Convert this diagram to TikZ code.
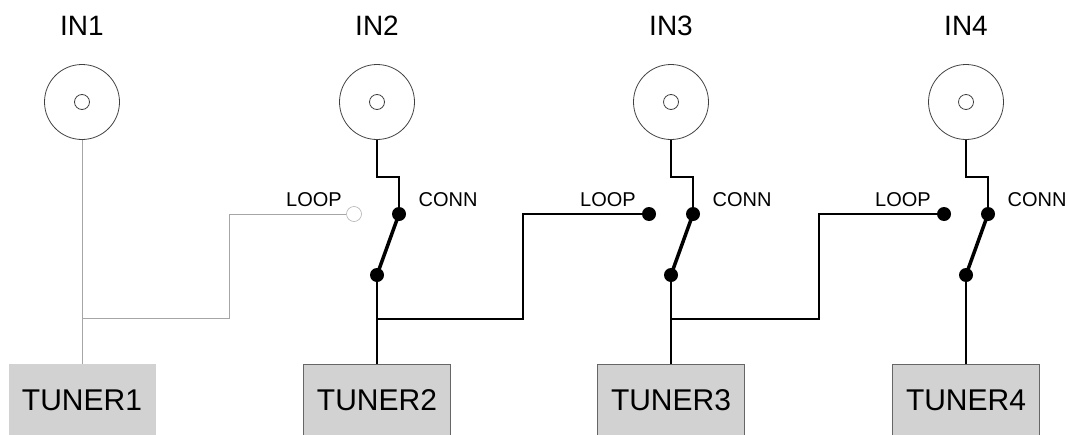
\documentclass[tikz,border=0pt]{standalone}
\usepackage{fontspec}
\setmainfont{Liberation Sans}
\begin{document}
\begin{tikzpicture}[x=1pt,y=-1pt,
  jack/.style={draw=black!75,circle,minimum size=75pt,inner sep=0pt,line width=0.8pt},
  hole/.style={draw=black!75,circle,minimum size=15pt,inner sep=0pt,line width=0.8pt},
  dot/.style={fill,circle,minimum size=14pt,inner sep=0pt},
  opendot/.style={draw=gray!60,circle,minimum size=15pt,inner sep=0pt,line width=0.6pt},
  tuner/.style={fill=gray!35,draw=black!60,line width=0.8pt,minimum width=147pt,minimum height=72pt,anchor=north,font=\fontsize{30}{36}\selectfont},
  inlabel/.style={anchor=base,font=\fontsize{28}{34}\selectfont},
  swlabel/.style={anchor=base,font=\fontsize{20}{24}\selectfont},
  wire/.style={line width=1.5pt},
  greywire/.style={line width=1pt,color=gray!70},
  blade/.style={line width=3.5pt}]
  \useasboundingbox (0,0) rectangle (1068,434);
  % jacks
  \node[jack] (in1) at (82,102) {};
  \node[jack] (in2) at (377,102) {};
  \node[jack] (in3) at (671,102) {};
  \node[jack] (in4) at (966,102) {};
  \node[hole] (h1) at (in1) {};
  \node[hole] (h2) at (in2) {};
  \node[hole] (h3) at (in3) {};
  \node[hole] (h4) at (in4) {};
  \node[inlabel] (t1) at (82,35) {IN1};
  \node[inlabel] (t2) at (377,35) {IN2};
  \node[inlabel] (t3) at (671,35) {IN3};
  \node[inlabel] (t4) at (966,35) {IN4};
  % switch contacts
  \node[opendot] (loop2) at (354,214) {};
  \node[dot] (loop3) at (649,214) {};
  \node[dot] (loop4) at (944,214) {};
  \node[dot] (conn2) at (399,214) {};
  \node[dot] (conn3) at (693,214) {};
  \node[dot] (conn4) at (988,214) {};
  \node[dot] (piv2) at (377,275) {};
  \node[dot] (piv3) at (671,275) {};
  \node[dot] (piv4) at (966,275) {};
  \node[swlabel] (lp2) at (314,206) {LOOP};
  \node[swlabel] (lp3) at (608,206) {LOOP};
  \node[swlabel] (lp4) at (903,206) {LOOP};
  \node[swlabel] (cn2) at (448,206) {CONN};
  \node[swlabel] (cn3) at (742,206) {CONN};
  \node[swlabel] (cn4) at (1037,206) {CONN};
  % tuners
  \node[tuner,draw=none] (tun1) at (82,364) {TUNER1};
  \node[tuner] (tun2) at (377,364) {TUNER2};
  \node[tuner] (tun3) at (671,364) {TUNER3};
  \node[tuner] (tun4) at (966,364) {TUNER4};
  % branch points
  \coordinate (j1) at (82,318);
  \coordinate (j2) at (377,319);
  \coordinate (j3) at (671,319);
  \coordinate (b2) at (229,214);
  \coordinate (b3) at (523,214);
  \coordinate (b4) at (819,214);
  % wiring
  \draw[greywire] (in1) -- (tun1);
  \draw[greywire] (j1) -| (b2) -- (loop2);
  \draw[wire] (in2.south) -- ++(0,37) -| (conn2);
  \draw[wire] (in3.south) -- ++(0,37) -| (conn3);
  \draw[wire] (in4.south) -- ++(0,37) -| (conn4);
  \draw[blade] (piv2.center) -- (conn2.center);
  \draw[blade] (piv3.center) -- (conn3.center);
  \draw[blade] (piv4.center) -- (conn4.center);
  \draw[wire] (piv2) -- (tun2);
  \draw[wire] (piv3) -- (tun3);
  \draw[wire] (piv4) -- (tun4);
  \draw[wire] (j2) -| (b3) -- (loop3);
  \draw[wire] (j3) -| (b4) -- (loop4);
\end{tikzpicture}
\end{document}
